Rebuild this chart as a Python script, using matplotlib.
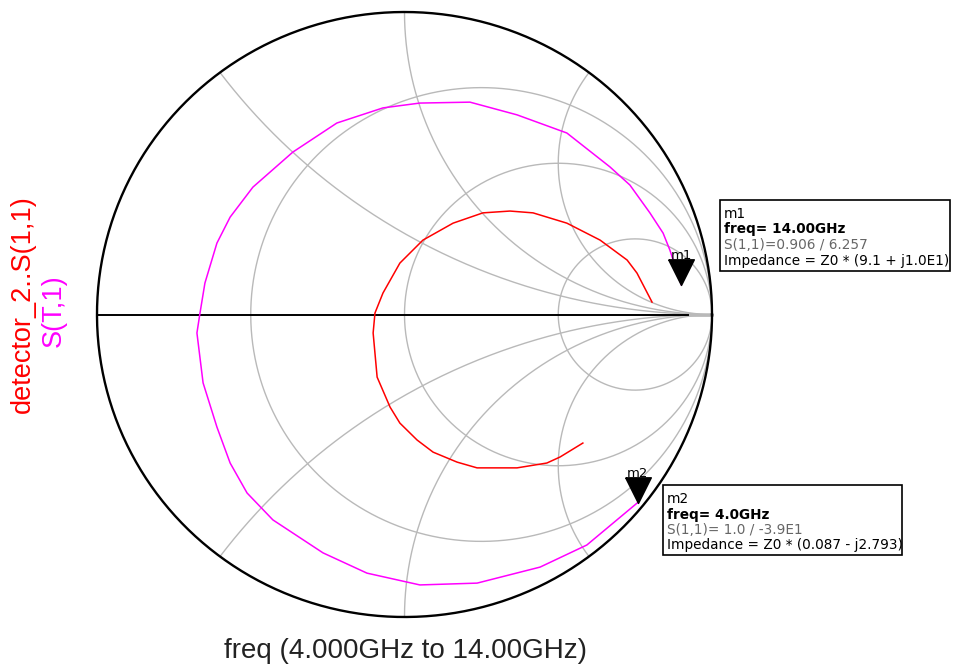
import numpy as np
import matplotlib
matplotlib.use('Agg')
import matplotlib.pyplot as plt
from matplotlib.patches import Rectangle
from matplotlib.path import Path

# reflection coefficient of S(T,1), 4 GHz -> 14 GHz (real / imag)
st1_re = [0.758, 0.593, 0.441, 0.236, 0.050, -0.122, -0.265, -0.428, -0.512, -0.567,
          -0.610, -0.655, -0.675, -0.665, -0.649, -0.610, -0.567, -0.493, -0.363, -0.220,
          -0.070, 0.050, 0.213, 0.366, 0.528, 0.668, 0.733, 0.798, 0.841, 0.863, 0.900]
st1_im = [-0.622, -0.762, -0.835, -0.888, -0.894, -0.855, -0.788, -0.679, -0.590, -0.491,
          -0.372, -0.226, -0.061, 0.005, 0.104, 0.236, 0.322, 0.421, 0.537, 0.633,
          0.683, 0.699, 0.702, 0.660, 0.600, 0.488, 0.428, 0.336, 0.269, 0.213, 0.099]

# detector_2..S(1,1), same sweep
det_re = [0.580, 0.506, 0.463, 0.366, 0.236, 0.171, 0.093, 0.041, -0.015, -0.047,
          -0.089, -0.102, -0.096, -0.070, -0.015, 0.060, 0.158, 0.255, 0.343, 0.418,
          0.528, 0.636, 0.724, 0.756, 0.805]
det_im = [-0.425, -0.471, -0.491, -0.507, -0.507, -0.488, -0.455, -0.415, -0.359, -0.306,
          -0.207, -0.061, 0.005, 0.071, 0.170, 0.246, 0.302, 0.336, 0.342, 0.336,
          0.302, 0.246, 0.180, 0.137, 0.041]

# markers: name, freq (GHz), normalised impedance, S readout text
mk_names = ['m1', 'm2']
mk_freq = ['14.00', '4.0']
mk_z = [9.1 + 10.0j, 0.087 - 2.793j]
mk_s = ['0.906 / 6.257', ' 1.0 / -3.9E1']
mk_ztxt = ['(9.1 + j1.0E1)', '(0.087 - j2.793)']

# smith grid values
r_circles = [1/3., 1.0, 3.0]
x_arcs = [0.5, 1.0, 2.0]

GRID = '#b9b9b9'
W, H = 955, 667


def fx(px):
    return px / float(W)


def fy(py):
    return 1 - py / float(H)


def smith_grid(ax):
    t = np.linspace(0, 2*np.pi, 600)
    for r in r_circles:
        c, rad = r/(1+r), 1/(1+r)
        ax.plot(c + rad*np.cos(t), rad*np.sin(t), color=GRID, lw=1.0, zorder=1)
    rr = np.concatenate([[0], np.logspace(-3, 3, 600)])
    for x in x_arcs:
        for s in (1, -1):
            g = (rr + 1j*s*x - 1) / (rr + 1j*s*x + 1)
            ax.plot(g.real, g.imag, color=GRID, lw=1.0, zorder=1)
    ax.plot([0.92, 1], [0, 0], color=GRID, lw=2.0, zorder=1)
    ax.plot([-1, 0.922], [0, 0], color='black', lw=1.4, zorder=2)
    ax.plot(np.cos(t), np.sin(t), color='black', lw=1.7, zorder=4)


fig = plt.figure(figsize=(9.55, 6.67), dpi=100)
ax = fig.add_axes([0, 0, 1, 1])
ax.set_xlim(-1.3154, 1.7902)
ax.set_ylim(-1.1653, 1.0397)
ax.axis('off')

smith_grid(ax)
ax.plot(st1_re, st1_im, color='#ff00ff', lw=1.1, zorder=3)
ax.plot(det_re, det_im, color='#ff0000', lw=1.1, zorder=3)

# downward triangle with its tip on the point
tri = Path([(-1, 2), (1, 2), (0, 0), (-1, 2)])
box_pos = [(720, 200, 230, 71), (663, 485, 239, 70)]
for i, z in enumerate(mk_z):
    g = (z - 1) / (z + 1)
    ax.plot([g.real], [g.imag], marker=tri, ms=37, color='black', ls='none', zorder=6)
    ax.annotate(mk_names[i], (g.real, g.imag), xytext=(0, 21), textcoords='offset points',
                ha='center', va='center', fontsize=9.5, zorder=7)

    bx, by, bw, bh = box_pos[i]
    fig.patches.append(Rectangle((fx(bx), fy(by + bh)), bw/float(W), bh/float(H),
                                 transform=fig.transFigure, fill=False,
                                 edgecolor='black', lw=1.2))
    lines = [(mk_names[i], 'normal', 'black'),
             ('freq= %sGHz' % mk_freq[i], 'bold', 'black'),
             ('S(1,1)=%s' % mk_s[i], 'normal', '#666666'),
             ('Impedance = Z0 * %s' % mk_ztxt[i], 'normal', 'black')]
    for k, (txt, wt, col) in enumerate(lines):
        fig.text(fx(bx + 4), fy(by + 14 + 15.5*k), txt, ha='left', va='center',
                 fontsize=9.8, fontweight=wt, color=col, family='DejaVu Sans')

fig.text(fx(405), fy(651), 'freq (4.000GHz to 14.00GHz)', ha='center', va='center',
         fontsize=20, family='Liberation Sans', color='#222222')
fig.text(fx(23), fy(304), 'detector_2..S(1,1)', rotation=90, ha='center', va='center',
         fontsize=19.5, family='Liberation Sans', color='#ff0000')
fig.text(fx(54), fy(311), 'S(T,1)', rotation=90, ha='center', va='center',
         fontsize=19.5, family='Liberation Sans', color='#ff00ff')

fig.savefig('out.png', dpi=100, facecolor='white')
